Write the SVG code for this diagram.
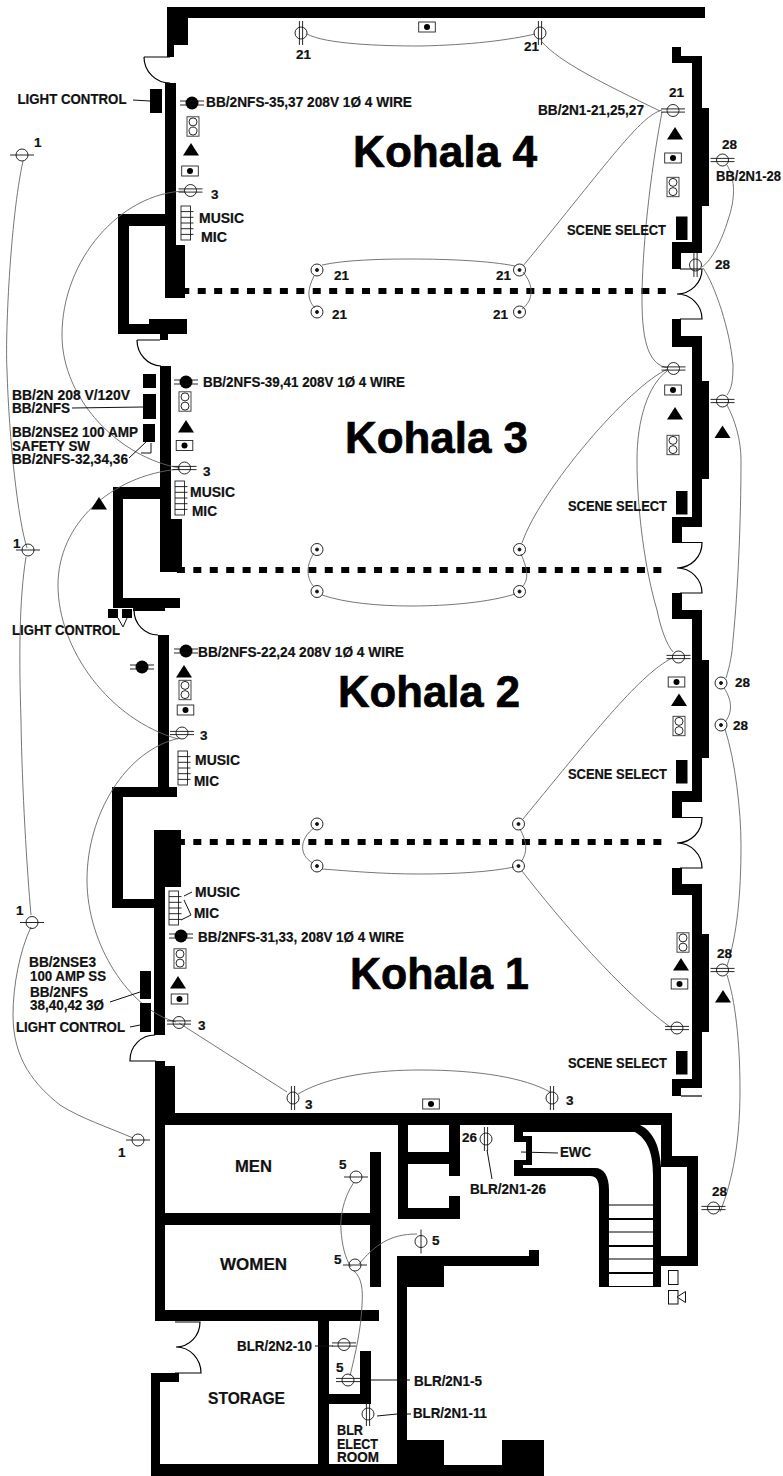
<svg xmlns="http://www.w3.org/2000/svg" xmlns:xlink="http://www.w3.org/1999/xlink" width="783" height="1476" viewBox="0 0 783 1476">
<style>
text{font-family:"Liberation Sans",Arial,sans-serif;font-weight:700;fill:#111;stroke:#111;stroke-width:.2}
.l{font-size:14px}
.n{font-size:13.5px}
.r{font-size:16.5px}
.t{font-size:45px;fill:#000;stroke:#000;stroke-width:.7}
.w{fill:none;stroke:#666;stroke-width:.9}
.b{fill:none;stroke:#000;stroke-width:1.2}
.k{fill:none;stroke:#111;stroke-width:1}
.s{fill:none;stroke:#111;stroke-width:.9}
.d{fill:none;stroke:#000;stroke-width:6;stroke-dasharray:8 8.43}
</style>
<defs>
<g id="h2" class="s"><circle r="6"/><path d="M-12,-1.6H12M-12,1.6H12"/></g>
<g id="v2" class="s"><circle r="6"/><path d="M-1.6,-12V12M1.6,-12V12"/></g>
<g id="h1" class="s"><circle r="6"/><path d="M-12,0H12"/></g>
<g id="v1" class="s"><circle r="6"/><path d="M0,-12V12"/></g>
<g id="rc" class="s"><circle r="6"/><circle r="1.5" fill="#111"/></g>
<g id="fc"><circle r="6.5" fill="#000"/><path d="M-12,-2H12M-12,2H12" class="s"/></g>
<g id="sp" class="s"><rect x="-6" y="-9.7" width="12" height="19.4" fill="#fff" stroke="#333"/><circle cy="-4.6" r="4"/><circle cy="4.6" r="4"/></g>
<path id="tr" d="M0,0L8,12.5H-8Z" fill="#000"/>
<g id="bd"><rect x="-8.3" y="-5" width="16.6" height="10" fill="#fff" stroke="#222" stroke-width=".9"/><circle r="3" fill="#000"/></g>
<g id="ms" class="s"><rect x="0" y="0" width="9.5" height="34" fill="#fff" stroke="#222"/><path d="M0,5.6H12.5M0,11.3H12.5M0,17H12.5M0,22.7H12.5M0,28.4H12.5"/></g>
</defs>
<rect width="783" height="1476" fill="#fff"/>

<g id="walls" fill="#000">
<path d="M167,7H705V18H188V45H174V57H167Z"/>
<rect x="165" y="83" width="11" height="162"/>
<rect x="165" y="245" width="20" height="53"/>
<path d="M118,214H165V226H129V324H149V319H187V334H168V340H160V334H118Z"/>
<rect x="160" y="366" width="11" height="153"/>
<rect x="160" y="519" width="22" height="53"/>
<path d="M113,487H160V499H123V598H180V608H165V611H133V608H113Z"/>
<rect x="158" y="635" width="11" height="152"/>
<path d="M112,787H177V797H123V899H154V908H112Z"/>
<rect x="154" y="830" width="27" height="57"/>
<rect x="154" y="887" width="11" height="148"/>
<path d="M156,1061H165V1066H175V1113H672V1156H698V1266H661V1287H653V1175C653,1152 647,1139 635,1132H523V1136H532V1165H523V1168H595C604,1168 609,1176 609,1190V1287H599V1190C599,1180 596,1176 590,1176H514V1160H526V1142H514V1125H460V1219H398V1125H165V1213H370V1152H381V1287H370V1225H165V1310H379V1321H329V1351H371V1404H329V1464H397V1256H529V1250H539V1266H444V1287H407V1440H444V1465H502V1440H544V1476H151V1373H179V1382H160V1464H318V1321H155V1061Z"/>
<path d="M408,1125H449V1152H408ZM408,1164H449V1176H460V1196H449V1208H408Z" fill="#fff"/>
<rect x="329" y="1321" width="31" height="73" fill="#fff"/>
<rect x="360" y="1351" width="11" height="53"/>
<rect x="329" y="1394" width="42" height="10"/>
<path d="M661,1167H687V1256H661Z" fill="#fff"/>
<path d="M640,1125H661V1167C660,1150 655,1132 640,1125Z" fill="#fff"/>
<path d="M672,47H681V56H702V108H709V206H702V253H681V269H672V242H692V63H672Z"/>
<path d="M672,319H681V336H702V381H709V479H702V527H682V543H672V517H692V347H672Z"/>
<path d="M672,593H682V610H702V660H709V758H702V802H682V818H672V791H692V619H672Z"/>
<path d="M672,868H682V884H702V934H709V1032H702V1088H681V1096H672V1079H692V895H672Z"/>
</g>
<g id="stairs" fill="#000">
<rect x="609" y="1204.5" width="44" height="1"/>
<rect x="609" y="1218" width="44" height="2"/>
<rect x="609" y="1231.5" width="44" height="1"/>
<rect x="609" y="1245" width="44" height="2"/>
<rect x="609" y="1258.5" width="44" height="1"/>
<rect x="609" y="1272" width="44" height="2"/>
<rect x="609" y="1286" width="44" height="1"/>
</g>
<g id="doors" class="b">
<path d="M144,57H170M144,57A26,26 0 0 0 170,83"/>
<path d="M137,340H160M137,340A25,26 0 0 0 161,366"/>
<path d="M134,610A24,25 0 0 0 158,635"/>
<path d="M155,1035A25,25 0 0 0 130,1060V1061H156"/>
<path d="M680,269H702A25,25 0 0 1 677,294A25,25 0 0 1 702,319H680"/>
<path d="M680,542.5H702A25,25 0 0 1 677,568A25,25 0 0 1 702,593H680"/>
<path d="M680,817.5H702A25,25 0 0 1 677,843A25,25 0 0 1 702,868H680"/>
<path d="M681,1096H702"/>
<path d="M175,1322H200A24,25 0 0 1 176,1347A25,26 0 0 1 201,1373H175"/>
</g>
<g id="partitions" class="d">
<path d="M181.3,291H666"/>
<path d="M176.9,570H662"/>
<path d="M176.9,842H662"/>
</g>

<g id="connectors">
<path class="w" d="M23,161C10,220 5,340 7,370C9,440 18,520 27,548"/>
<path class="w" d="M26,557C19,600 19,660 21,720C22,790 27,870 31,915"/>
<path class="w" d="M31,927C20,950 13,985 13,1015C13,1060 35,1085 60,1105C80,1118 110,1128 133,1138"/>
<path class="w" d="M185,191C120,193 62,260 62,335C62,400 120,458 180,468"/>
<path class="w" d="M180,469C110,475 58,525 58,585C58,650 110,720 178,739"/>
<path class="w" d="M180,738C125,750 87,815 87,880C87,945 130,1010 176,1022"/>
<path class="w" d="M179,1023L287,1092"/>
<path class="w" d="M298,1094C330,1075 380,1070 420,1070C480,1070 525,1078 550,1092"/>
<path class="w" d="M307,34C325,44 380,46 420,46C470,45 510,40 535,34"/>
<path class="w" d="M542,42C560,62 600,82 660,111"/>
<path class="w" d="M662,110C640,116 610,160 523,266"/>
<path class="w" d="M662,112C650,175 642,250 642,300C642,345 650,365 668,368"/>
<path class="w" d="M322,265C345,260 380,259 410,259C450,259 490,261 515,266"/>
<path class="w" d="M523,272C534,285 534,300 522,309"/>
<path class="w" d="M314,276C307,290 307,300 315,308"/>
<path class="w" d="M727,165C736,180 735,200 728,220C722,240 712,260 702,267"/>
<path class="w" d="M703,268C715,285 730,330 733,365C733,380 732,388 727,395"/>
<path class="w" d="M727,405C735,420 741,440 741,460C741,520 738,590 733,640C732,655 730,665 726,678"/>
<path class="w" d="M724,688C732,700 733,712 725,722"/>
<path class="w" d="M725,729C735,760 741,810 741,845C741,895 737,935 727,966"/>
<path class="w" d="M727,975C735,1000 740,1040 740,1090C740,1140 733,1180 720,1212"/>
<path class="w" d="M668,369C630,385 540,490 522,543"/>
<path class="w" d="M667,371C648,385 637,420 637,460C637,510 645,570 657,610C661,630 667,645 673,652"/>
<path class="w" d="M672,658C640,675 600,725 523,819"/>
<path class="w" d="M522,871C560,920 620,990 670,1027"/>
<path class="w" d="M521,554C528,570 529,580 522,587"/>
<path class="w" d="M314,553C306,565 306,578 314,587"/>
<path class="w" d="M322,595C345,603 380,606 410,606C450,606 490,602 515,594"/>
<path class="w" d="M322,869C350,871 380,874 420,874C455,874 490,872 514,867"/>
<path class="w" d="M314,828C300,838 298,855 313,863"/>
<path class="w" d="M520,829C527,842 528,852 521,862"/>
<path class="w" d="M354,1182C342,1200 340,1220 341,1230C342,1245 345,1258 351,1267"/>
<path class="w" d="M359,1264C375,1245 390,1234 417,1234"/>
<path class="w" d="M354,1271C362,1278 363,1290 362,1305C361,1330 355,1355 350,1376"/>
<path class="k" d="M133,100L150,101"/>
<path class="k" d="M72,408L143,407"/>
<path class="k" d="M129,458L146,442M151,443V453H141"/>
<path class="k" d="M118,618L123,627L127,618"/>
<path class="k" d="M110,1002L140,992M130,1027L140,1025"/>
<path class="k" d="M184,896L192,892M184,900L191,915L181,920"/>
<path class="k" d="M315,1346H333"/>
<path class="k" d="M370,1380H410"/>
<path class="k" d="M377,1416L397,1414M407,1414H411"/>
<path class="k" d="M487,1150L492,1179"/>
<path class="k" d="M521,1152L558,1153"/>
</g>

<g id="kohala4">
<use xlink:href="#v2" x="301" y="33"/><use xlink:href="#v2" x="540" y="33"/>
<use xlink:href="#bd" x="427" y="27"/>
<use xlink:href="#fc" x="192" y="103"/><use xlink:href="#sp" x="193" y="126.5"/><use xlink:href="#tr" x="191" y="143"/><use xlink:href="#bd" x="190" y="171"/>
<use xlink:href="#h2" x="190.5" y="190.5"/><use xlink:href="#ms" x="181" y="206"/>
<rect x="150" y="89" width="12" height="24"/>
<use xlink:href="#h2" x="673" y="110.5"/><use xlink:href="#tr" x="675" y="127"/><use xlink:href="#bd" x="673" y="158"/><use xlink:href="#sp" x="673" y="187"/>
<rect x="676" y="216.5" width="11.5" height="23.5"/>
<use xlink:href="#h2" x="722.5" y="160"/><use xlink:href="#v2" x="695.5" y="265"/>
<use xlink:href="#rc" x="317" y="270"/><use xlink:href="#rc" x="317" y="312"/><use xlink:href="#rc" x="519.5" y="270"/><use xlink:href="#rc" x="519.5" y="312"/>
</g>
<g id="kohala3">
<use xlink:href="#fc" x="186" y="382"/><use xlink:href="#sp" x="185" y="401.5"/><use xlink:href="#tr" x="186" y="420"/><use xlink:href="#bd" x="184.5" y="445.5"/>
<use xlink:href="#h2" x="184.5" y="468"/><use xlink:href="#ms" x="175" y="481"/>
<rect x="143" y="374" width="13" height="14"/><rect x="143" y="394" width="13" height="25"/><rect x="143" y="424" width="12" height="18"/>
<use xlink:href="#tr" x="99" y="497"/>
<use xlink:href="#h2" x="673.5" y="368.5"/><use xlink:href="#bd" x="673" y="390"/><use xlink:href="#tr" x="675" y="407"/><use xlink:href="#sp" x="673" y="445"/>
<rect x="676" y="491" width="11.5" height="23.5"/>
<use xlink:href="#h2" x="722.5" y="401"/><use xlink:href="#tr" x="722.5" y="425.5"/>
<use xlink:href="#rc" x="317" y="549.5"/><use xlink:href="#rc" x="317" y="591.5"/><use xlink:href="#rc" x="519.5" y="549.5"/><use xlink:href="#rc" x="519.5" y="591.5"/>
<rect x="108" y="609" width="10" height="9"/><rect x="122" y="609" width="10" height="9"/>
</g>
<g id="kohala2">
<use xlink:href="#fc" x="186" y="651"/><use xlink:href="#fc" x="142" y="667"/><use xlink:href="#tr" x="184" y="665"/><use xlink:href="#sp" x="185" y="690"/><use xlink:href="#bd" x="185.5" y="710"/>
<use xlink:href="#h2" x="182" y="733"/><use xlink:href="#ms" x="178" y="751"/>
<use xlink:href="#h2" x="678.5" y="657"/><use xlink:href="#bd" x="676.5" y="682"/><use xlink:href="#tr" x="679" y="693.5"/><use xlink:href="#sp" x="679" y="726"/>
<rect x="676" y="760" width="11.5" height="23.5"/>
<use xlink:href="#rc" x="721" y="683"/><use xlink:href="#rc" x="721" y="725"/>
<use xlink:href="#rc" x="317" y="824"/><use xlink:href="#rc" x="317" y="866"/><use xlink:href="#rc" x="518.5" y="824"/><use xlink:href="#rc" x="518.5" y="866"/>
</g>
<g id="kohala1">
<use xlink:href="#ms" x="169" y="891"/><use xlink:href="#fc" x="181" y="936"/><use xlink:href="#sp" x="180" y="958.5"/><use xlink:href="#tr" x="178" y="976"/><use xlink:href="#bd" x="179.5" y="999"/>
<use xlink:href="#h2" x="179" y="1022.5"/>
<rect x="140" y="971" width="11" height="28"/><rect x="140" y="1003" width="11" height="29"/>
<use xlink:href="#sp" x="683" y="942.5"/><use xlink:href="#tr" x="681" y="958"/><use xlink:href="#bd" x="679.5" y="984"/><use xlink:href="#h2" x="677" y="1028"/>
<rect x="676" y="1051" width="11.5" height="23.5"/>
<use xlink:href="#h2" x="722.5" y="970"/><use xlink:href="#tr" x="723" y="990"/>
<use xlink:href="#v2" x="293" y="1098"/><use xlink:href="#v2" x="552" y="1098"/><use xlink:href="#bd" x="431" y="1104"/>
</g>
<g id="left-circuit"><use xlink:href="#h1" x="22" y="155"/><use xlink:href="#h1" x="28" y="550"/><use xlink:href="#h1" x="32" y="922.5"/><use xlink:href="#h1" x="138" y="1140"/></g>
<g id="service">
<use xlink:href="#h1" x="356" y="1177"/><use xlink:href="#h1" x="355" y="1265"/><use xlink:href="#v1" x="421" y="1241.5"/>
<use xlink:href="#h2" x="344" y="1344.5"/><use xlink:href="#h2" x="348" y="1380"/><use xlink:href="#v2" x="368" y="1414"/>
<use xlink:href="#v2" x="486" y="1139"/><use xlink:href="#h2" x="713.5" y="1208"/>
<rect x="668.5" y="1270.5" width="9.5" height="14" fill="#fff" stroke="#111" stroke-width="1"/>
<rect x="668.5" y="1290.5" width="9.5" height="13.5" fill="#fff" stroke="#111" stroke-width="1"/>
<path d="M677,1297L685.5,1291.5V1302.5Z" fill="#fff" stroke="#111" stroke-width="1"/>
</g>

<g id="titles">
<text class="t" x="353" y="167" textLength="184" lengthAdjust="spacingAndGlyphs">Kohala 4</text>
<text class="t" x="345" y="453" textLength="183" lengthAdjust="spacingAndGlyphs">Kohala 3</text>
<text class="t" x="338" y="707" textLength="182" lengthAdjust="spacingAndGlyphs">Kohala 2</text>
<text class="t" x="350" y="989" textLength="179" lengthAdjust="spacingAndGlyphs">Kohala 1</text>
</g>
<g id="labels">
<text class="l" x="17.5" y="104" textLength="109" lengthAdjust="spacingAndGlyphs">LIGHT CONTROL</text>
<text class="l" x="206" y="107" textLength="206" lengthAdjust="spacingAndGlyphs">BB/2NFS-35,37 208V 1Ø 4 WIRE</text>
<text class="l" x="203" y="387" textLength="202" lengthAdjust="spacingAndGlyphs">BB/2NFS-39,41 208V 1Ø 4 WIRE</text>
<text class="l" x="198" y="657" textLength="206" lengthAdjust="spacingAndGlyphs">BB/2NFS-22,24 208V 1Ø 4 WIRE</text>
<text class="l" x="198" y="942" textLength="206" lengthAdjust="spacingAndGlyphs">BB/2NFS-31,33, 208V 1Ø 4 WIRE</text>
<text class="l" x="199" y="223" textLength="45" lengthAdjust="spacingAndGlyphs">MUSIC</text>
<text class="l" x="201" y="242" textLength="26" lengthAdjust="spacingAndGlyphs">MIC</text>
<text class="l" x="190" y="497" textLength="45" lengthAdjust="spacingAndGlyphs">MUSIC</text>
<text class="l" x="192" y="516" textLength="25" lengthAdjust="spacingAndGlyphs">MIC</text>
<text class="l" x="195" y="765" textLength="45" lengthAdjust="spacingAndGlyphs">MUSIC</text>
<text class="l" x="194" y="786" textLength="25" lengthAdjust="spacingAndGlyphs">MIC</text>
<text class="l" x="195" y="897" textLength="45" lengthAdjust="spacingAndGlyphs">MUSIC</text>
<text class="l" x="194" y="918" textLength="25" lengthAdjust="spacingAndGlyphs">MIC</text>
<text class="l" x="12" y="400" textLength="118" lengthAdjust="spacingAndGlyphs">BB/2N 208 V/120V</text>
<text class="l" x="12" y="413" textLength="58" lengthAdjust="spacingAndGlyphs">BB/2NFS</text>
<text class="l" x="12" y="437" textLength="126" lengthAdjust="spacingAndGlyphs">BB/2NSE2 100 AMP</text>
<text class="l" x="12" y="451" textLength="78" lengthAdjust="spacingAndGlyphs">SAFETY SW</text>
<text class="l" x="12" y="464" textLength="116" lengthAdjust="spacingAndGlyphs">BB/2NFS-32,34,36</text>
<text class="l" x="12" y="635" textLength="108" lengthAdjust="spacingAndGlyphs">LIGHT CONTROL</text>
<text class="l" x="29" y="967" textLength="67" lengthAdjust="spacingAndGlyphs">BB/2NSE3</text>
<text class="l" x="30" y="981" textLength="76" lengthAdjust="spacingAndGlyphs">100 AMP SS</text>
<text class="l" x="30" y="997" textLength="58" lengthAdjust="spacingAndGlyphs">BB/2NFS</text>
<text class="l" x="30" y="1010" textLength="74" lengthAdjust="spacingAndGlyphs">38,40,42 3Ø</text>
<text class="l" x="16" y="1032" textLength="109" lengthAdjust="spacingAndGlyphs">LIGHT CONTROL</text>
<text class="l" x="538" y="115" textLength="106" lengthAdjust="spacingAndGlyphs">BB/2N1-21,25,27</text>
<text class="l" x="716" y="181" textLength="65" lengthAdjust="spacingAndGlyphs">BB/2N1-28</text>
<text class="l" x="567" y="235" textLength="99" lengthAdjust="spacingAndGlyphs">SCENE SELECT</text>
<text class="l" x="568" y="511" textLength="99" lengthAdjust="spacingAndGlyphs">SCENE SELECT</text>
<text class="l" x="568" y="779" textLength="99" lengthAdjust="spacingAndGlyphs">SCENE SELECT</text>
<text class="l" x="568" y="1068" textLength="99" lengthAdjust="spacingAndGlyphs">SCENE SELECT</text>
<text class="l" x="237" y="1351" textLength="75" lengthAdjust="spacingAndGlyphs">BLR/2N2-10</text>
<text class="l" x="414" y="1386" textLength="68" lengthAdjust="spacingAndGlyphs">BLR/2N1-5</text>
<text class="l" x="413" y="1418" textLength="74" lengthAdjust="spacingAndGlyphs">BLR/2N1-11</text>
<text class="l" x="470" y="1194" textLength="76" lengthAdjust="spacingAndGlyphs">BLR/2N1-26</text>
<text class="l" x="560" y="1157" textLength="31" lengthAdjust="spacingAndGlyphs">EWC</text>
<text class="l" x="337" y="1435" textLength="26" lengthAdjust="spacingAndGlyphs">BLR</text>
<text class="l" x="337" y="1449" textLength="41" lengthAdjust="spacingAndGlyphs">ELECT</text>
<text class="l" x="337" y="1462" textLength="42" lengthAdjust="spacingAndGlyphs">ROOM</text>
<text class="r" x="235" y="1172" textLength="37" lengthAdjust="spacingAndGlyphs">MEN</text>
<text class="r" x="220" y="1270" textLength="67" lengthAdjust="spacingAndGlyphs">WOMEN</text>
<text class="r" x="208" y="1404" textLength="77" lengthAdjust="spacingAndGlyphs">STORAGE</text>
<text class="n" x="296" y="59">21</text>
<text class="n" x="524" y="51">21</text>
<text class="n" x="669" y="97">21</text>
<text class="n" x="722" y="149">28</text>
<text class="n" x="715" y="269">28</text>
<text class="n" x="334" y="280">21</text>
<text class="n" x="332" y="319">21</text>
<text class="n" x="496" y="280">21</text>
<text class="n" x="493" y="319">21</text>
<text class="n" x="34" y="147">1</text>
<text class="n" x="13" y="548">1</text>
<text class="n" x="16" y="915">1</text>
<text class="n" x="118" y="1157">1</text>
<text class="n" x="211" y="199">3</text>
<text class="n" x="203" y="476">3</text>
<text class="n" x="200" y="740">3</text>
<text class="n" x="198" y="1030">3</text>
<text class="n" x="305" y="1109">3</text>
<text class="n" x="566" y="1105">3</text>
<text class="n" x="735" y="687">28</text>
<text class="n" x="733" y="730">28</text>
<text class="n" x="717" y="958">28</text>
<text class="n" x="712" y="1196">28</text>
<text class="n" x="462" y="1142">26</text>
<text class="n" x="339" y="1169">5</text>
<text class="n" x="334" y="1264">5</text>
<text class="n" x="432" y="1245">5</text>
<text class="n" x="336" y="1372">5</text>
</g>
</svg>
